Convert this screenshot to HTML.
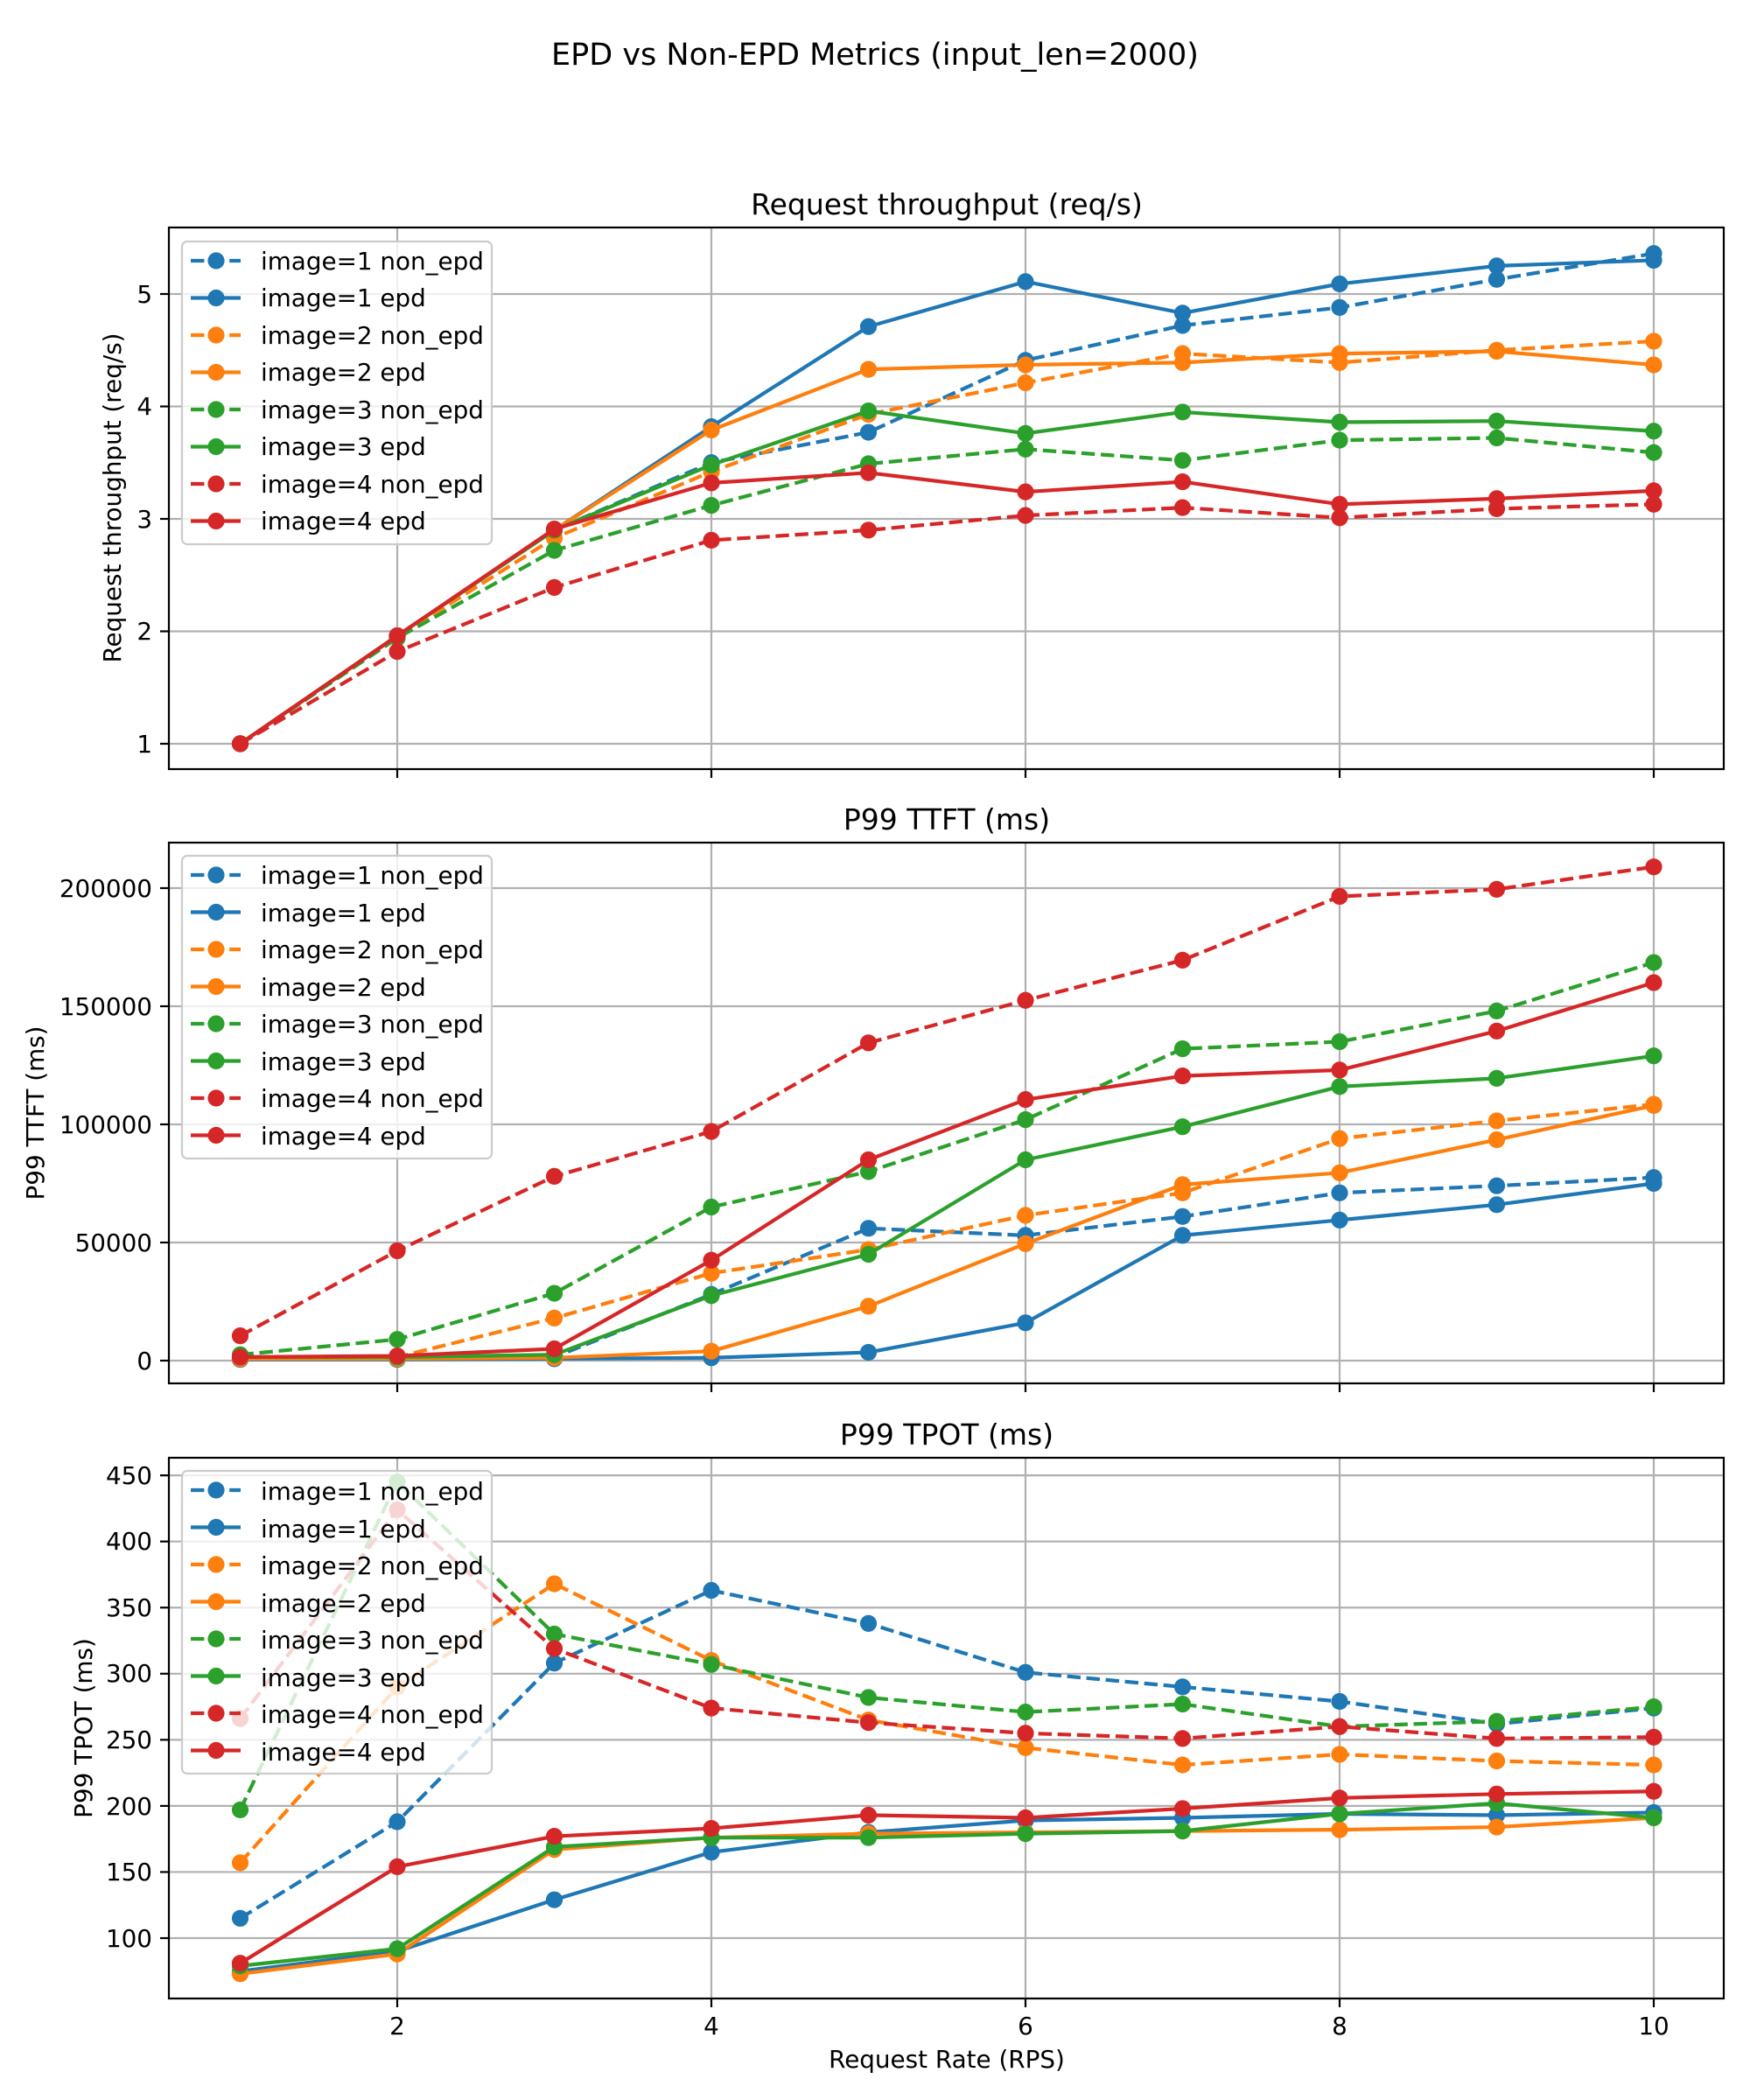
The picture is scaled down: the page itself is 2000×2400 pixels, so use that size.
<!DOCTYPE html>
<html><head><meta charset="utf-8"><style>
html,body{margin:0;padding:0;background:#fff;}
svg{display:block;font-family:"DejaVu Sans","Liberation Sans",sans-serif;}
</style></head><body>
<svg id="s" width="2000" height="2400" xmlns="http://www.w3.org/2000/svg">
<rect width="2000" height="2400" fill="#fff"/>
<text x="1000" y="74" font-size="35" text-anchor="middle">EPD vs Non-EPD Metrics (input_len=2000)</text>
<text x="1082" y="245" font-size="33" text-anchor="middle">Request throughput (req/s)</text>
<text x="1082" y="948" font-size="33" text-anchor="middle">P99 TTFT (ms)</text>
<text x="1082" y="1651" font-size="33" text-anchor="middle">P99 TPOT (ms)</text>
<text transform="translate(138,569) rotate(-90)" font-size="27.8" text-anchor="middle">Request throughput (req/s)</text>
<text transform="translate(50,1272) rotate(-90)" font-size="27.8" text-anchor="middle">P99 TTFT (ms)</text>
<text transform="translate(105,1975) rotate(-90)" font-size="27.8" text-anchor="middle">P99 TPOT (ms)</text>
<text x="1082" y="2363" font-size="27.8" text-anchor="middle">Request Rate (RPS)</text>
<g id="g"></g>
<g id="txt" font-size="27.8">
<text x="454" y="2325" text-anchor="middle">2</text>
<text x="813" y="2325" text-anchor="middle">4</text>
<text x="1172" y="2325" text-anchor="middle">6</text>
<text x="1531" y="2325" text-anchor="middle">8</text>
<text x="1890" y="2325" text-anchor="middle">10</text>
<text x="174" y="860" text-anchor="end">1</text>
<text x="174" y="731" text-anchor="end">2</text>
<text x="174" y="603" text-anchor="end">3</text>
<text x="174" y="474" text-anchor="end">4</text>
<text x="174" y="346" text-anchor="end">5</text>
<text x="174" y="1565" text-anchor="end">0</text>
<text x="174" y="1430" text-anchor="end">50000</text>
<text x="174" y="1295" text-anchor="end">100000</text>
<text x="174" y="1160" text-anchor="end">150000</text>
<text x="174" y="1025" text-anchor="end">200000</text>
<text x="174" y="2225" text-anchor="end">100</text>
<text x="174" y="2149" text-anchor="end">150</text>
<text x="174" y="2074" text-anchor="end">200</text>
<text x="174" y="1998" text-anchor="end">250</text>
<text x="174" y="1922" text-anchor="end">300</text>
<text x="174" y="1847" text-anchor="end">350</text>
<text x="174" y="1771" text-anchor="end">400</text>
<text x="174" y="1696" text-anchor="end">450</text>
</g>
<g id="leg"></g>
<g id="legtxt" font-size="27.8">
<text x="298" y="308">image=1 non_epd</text><text x="298" y="350">image=1 epd</text><text x="298" y="393">image=2 non_epd</text><text x="298" y="435">image=2 epd</text><text x="298" y="478">image=3 non_epd</text><text x="298" y="520">image=3 epd</text><text x="298" y="563">image=4 non_epd</text><text x="298" y="605">image=4 epd</text>
<text x="298" y="1010">image=1 non_epd</text><text x="298" y="1053">image=1 epd</text><text x="298" y="1095">image=2 non_epd</text><text x="298" y="1138">image=2 epd</text><text x="298" y="1180">image=3 non_epd</text><text x="298" y="1223">image=3 epd</text><text x="298" y="1265">image=4 non_epd</text><text x="298" y="1308">image=4 epd</text>
<text x="298" y="1714">image=1 non_epd</text><text x="298" y="1757">image=1 epd</text><text x="298" y="1799">image=2 non_epd</text><text x="298" y="1842">image=2 epd</text><text x="298" y="1884">image=3 non_epd</text><text x="298" y="1927">image=3 epd</text><text x="298" y="1969">image=4 non_epd</text><text x="298" y="2012">image=4 epd</text>
</g>
</svg>
<script>
const NS="http://www.w3.org/2000/svg";
const C=["#1f77b4","#ff7f0e","#2ca02c","#d62728"];
const X=v=>274.5+179.5*(v-1);
const R0=9.6;
const panels=[
 {top:260,bot:879,Y:v=>850-128.5*(v-1),ticks:[1,2,3,4,5],leg:276,
  d:[[1,1.96,2.9,3.5,3.77,4.41,4.72,4.88,5.13,5.36],[1,1.96,2.9,3.82,4.71,5.11,4.83,5.09,5.25,5.3],
     [1,1.95,2.83,3.42,3.93,4.21,4.47,4.39,4.5,4.58],[1,1.96,2.9,3.79,4.33,4.37,4.39,4.47,4.49,4.37],
     [1,1.94,2.72,3.12,3.49,3.62,3.52,3.7,3.72,3.59],[1,1.96,2.9,3.48,3.96,3.76,3.95,3.86,3.87,3.78],
     [1,1.82,2.39,2.81,2.9,3.03,3.1,3.01,3.09,3.13],[1,1.96,2.91,3.32,3.41,3.24,3.33,3.13,3.18,3.25]]},
 {top:963,bot:1581,Y:v=>1555-0.0027*v,ticks:[0,50000,100000,150000,200000],leg:978,
  d:[[1000,1500,1500,28000,56000,53000,61000,71000,74000,77500],[500,500,800,1200,3500,16000,53000,59500,66000,75000],
     [1000,1500,18000,37000,47000,61500,71000,94000,101500,108500],[800,800,1200,4000,23000,49500,74500,79500,93500,108000],
     [2500,9000,28500,65000,80000,102000,132000,135000,148000,168500],[1500,1500,2500,27500,45000,85000,99000,116000,119500,129000],
     [10500,46500,78000,97000,134500,152500,169500,196500,199500,209000],[1500,2000,5000,42500,85000,110500,120500,123000,139500,160000]]},
 {top:1666,bot:2284,Y:v=>2215-1.511*(v-100),ticks:[100,150,200,250,300,350,400,450],leg:1681,
  d:[[115,188,308,363,338,301,290,279,262,274],[75,90,129,165,180,189,191,194,193,195],
     [157,290,368,310,265,244,231,239,234,231],[73,88,167,176,179,180,181,182,184,191],
     [197,445,330,307,282,271,277,260,264,275],[79,92,169,176,176,179,181,194,202,191],
     [266,424,319,274,263,255,251,260,251,252],[81,154,177,183,193,191,198,206,209,211]]}
];
const g=document.getElementById("g");
function el(t,a,p){const e=document.createElementNS(NS,t);for(const k in a)e.setAttribute(k,a[k]);(p||g).appendChild(e);return e;}
panels.forEach(p=>{
  const L=193,R=1970;
  for(let v=2;v<=10;v+=2){el("line",{x1:X(v),x2:X(v),y1:p.top,y2:p.bot,stroke:"#b0b0b0","stroke-width":2.2});
    el("line",{x1:X(v),x2:X(v),y1:p.bot,y2:p.bot+10,stroke:"#000","stroke-width":2.2});}
  p.ticks.forEach(t=>{const y=p.Y(t);el("line",{x1:L,x2:R,y1:y,y2:y,stroke:"#b0b0b0","stroke-width":2.2});
    el("line",{x1:L-10,x2:L,y1:y,y2:y,stroke:"#000","stroke-width":2.2});});
  p.d.forEach((s,i)=>{const c=C[i>>1];const dash=i%2==0;
    el("polyline",{points:s.map((v,j)=>X(j+1)+","+p.Y(v)).join(" "),fill:"none",stroke:c,"stroke-width":4.2,"stroke-dasharray":dash?"15.4 6.7":"none","stroke-linejoin":"round"});
    s.forEach((v,j)=>el("circle",{cx:X(j+1),cy:p.Y(v),r:R0,fill:c}));});
  el("rect",{x:L,y:p.top,width:R-L,height:p.bot-p.top,fill:"none",stroke:"#000","stroke-width":2.2});
  el("rect",{x:208,y:p.leg,width:354,height:346,rx:6,fill:"#fff","fill-opacity":0.8,stroke:"#cccccc","stroke-width":2.2});
  for(let i=0;i<8;i++){const y=p.leg+22+i*42.5;const c=C[i>>1];
    el("line",{x1:218,x2:275,y1:y,y2:y,stroke:c,"stroke-width":4.2,"stroke-dasharray":i%2==0?"15.4 6.7":"none"});
    el("circle",{cx:247,cy:y,r:R0,fill:c});}
});
</script>
</body></html>
